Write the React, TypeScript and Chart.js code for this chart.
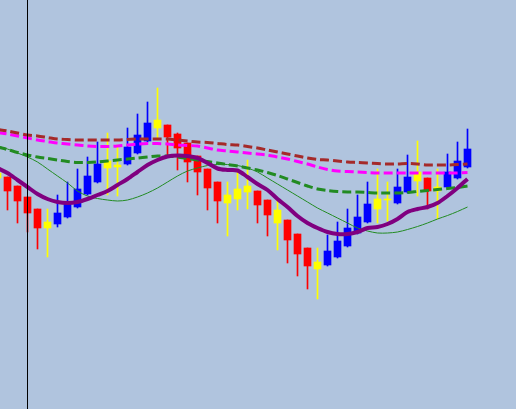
import React, { useEffect, useRef } from "react";
import { Chart, registerables } from "chart.js";

Chart.register(...registerables);

// ---- data ----
const candleKinds = [
  "doji", "down", "down", "down", "down", "doji", "up", "up", "up", "up",
  "up", "doji", "doji", "up", "up", "up", "doji", "down", "down", "down",
  "down", "down", "down", "doji", "doji", "doji", "down", "down", "doji", "down",
  "down", "down", "doji", "up", "up", "up", "up", "up", "doji", "doji",
  "up", "up", "doji", "down", "doji", "up", "up", "up",
];

const opens = [
  110.36, 110.32, 110.23, 110.12, 110.0, 109.87, 109.85, 109.92, 110.02, 110.15,
  110.27, 110.48, 110.44, 110.45, 110.56, 110.68, 110.89, 110.84, 110.75, 110.66,
  110.53, 110.4, 110.27, 110.14, 110.2, 110.23, 110.18, 110.09, 109.99, 109.89,
  109.75, 109.61, 109.47, 109.44, 109.52, 109.63, 109.76, 109.87, 110.1, 110.1,
  110.06, 110.17, 110.37, 110.31, 110.22, 110.22, 110.31, 110.42,
];

const closes = [
  110.31, 110.18, 110.08, 109.96, 109.81, 109.81, 109.96, 110.06, 110.2, 110.33,
  110.45, 110.41, 110.42, 110.62, 110.74, 110.86, 110.81, 110.72, 110.61, 110.47,
  110.37, 110.21, 110.08, 110.06, 110.1, 110.17, 110.04, 109.94, 109.86, 109.69,
  109.55, 109.43, 109.4, 109.58, 109.68, 109.81, 109.92, 110.05, 110.0, 110.09,
  110.22, 110.32, 110.28, 110.18, 110.18, 110.37, 110.48, 110.6,
];

const highs = [
  110.41, 110.32, 110.23, 110.12, 110.0, 110.0, 110.14, 110.27, 110.4, 110.52,
  110.67, 110.76, 110.64, 110.81, 110.95, 111.07, 111.21, 110.84, 110.76, 110.66,
  110.53, 110.4, 110.27, 110.27, 110.37, 110.49, 110.18, 110.09, 110.09, 109.89,
  109.75, 109.61, 109.61, 109.74, 109.87, 110.0, 110.14, 110.27, 110.4, 110.27,
  110.4, 110.54, 110.68, 110.31, 110.4, 110.55, 110.67, 110.8,
];

const lows = [
  110.25, 109.99, 109.86, 109.77, 109.6, 109.52, 109.82, 109.91, 110.01, 110.14,
  110.26, 110.14, 110.13, 110.44, 110.55, 110.67, 110.69, 110.54, 110.39, 110.27,
  110.14, 109.99, 109.86, 109.73, 109.99, 110.0, 109.86, 109.73, 109.59, 109.46,
  109.33, 109.2, 109.1, 109.43, 109.51, 109.62, 109.75, 109.86, 109.86, 109.88,
  110.05, 110.16, 110.13, 110.0, 109.9, 110.21, 110.3, 110.41,
];

const maBrown = [
  110.795, 110.78, 110.76, 110.74, 110.73, 110.715, 110.7, 110.695, 110.69, 110.69,
  110.69, 110.69, 110.69, 110.695, 110.7, 110.7, 110.7, 110.7, 110.69, 110.68,
  110.67, 110.665, 110.655, 110.645, 110.64, 110.625, 110.61, 110.59, 110.57, 110.55,
  110.53, 110.51, 110.495, 110.49, 110.48, 110.47, 110.465, 110.46, 110.455, 110.45,
  110.45, 110.455, 110.45, 110.44, 110.44, 110.44, 110.445, 110.45,
];

const maMagenta = [
  110.765, 110.75, 110.73, 110.71, 110.69, 110.675, 110.66, 110.65, 110.64, 110.63,
  110.625, 110.625, 110.63, 110.64, 110.65, 110.655, 110.655, 110.65, 110.64, 110.635,
  110.63, 110.61, 110.59, 110.58, 110.57, 110.56, 110.55, 110.54, 110.52, 110.5,
  110.475, 110.45, 110.42, 110.395, 110.38, 110.375, 110.37, 110.365, 110.36, 110.36,
  110.36, 110.36, 110.36, 110.36, 110.36, 110.36, 110.36, 110.365,
];

const maGreenDashed = [
  110.62, 110.595, 110.565, 110.54, 110.52, 110.505, 110.49, 110.475, 110.465, 110.465,
  110.47, 110.48, 110.49, 110.5, 110.51, 110.52, 110.53, 110.53, 110.52, 110.505,
  110.49, 110.475, 110.46, 110.445, 110.43, 110.41, 110.39, 110.365, 110.335, 110.3,
  110.265, 110.23, 110.2, 110.185, 110.175, 110.17, 110.17, 110.165, 110.16, 110.16,
  110.16, 110.165, 110.175, 110.185, 110.195, 110.205, 110.215, 110.23,
];

const maPurple = [
  110.41, 110.36, 110.29, 110.22, 110.15, 110.1, 110.07, 110.06, 110.07, 110.1,
  110.14, 110.18, 110.24, 110.3, 110.37, 110.44, 110.49, 110.525, 110.535, 110.53,
  110.51, 110.46, 110.405, 110.39, 110.385, 110.32, 110.25, 110.19, 110.1, 110.02,
  109.93, 109.86, 109.81, 109.77, 109.75, 109.75, 109.77, 109.81, 109.82, 109.85,
  109.9, 109.97, 110.0, 110.02, 110.06, 110.13, 110.21, 110.3,
];

const maGreenThin = [
  110.63, 110.6, 110.56, 110.52, 110.47, 110.4, 110.33, 110.26, 110.18, 110.13,
  110.105, 110.09, 110.08, 110.09, 110.12, 110.16, 110.21, 110.27, 110.33, 110.38,
  110.41, 110.435, 110.445, 110.445, 110.435, 110.41, 110.37, 110.31, 110.25, 110.19,
  110.13, 110.07, 110.01, 109.96, 109.91, 109.86, 109.81, 109.78, 109.76, 109.76,
  109.77, 109.795, 109.825, 109.86, 109.9, 109.935, 109.975, 110.02,
];

const separatorIndex = 3;
const priceMin = 108.0;
const priceMax = 112.09;
const indexMin = 0.25;
const indexMax = 51.85;

const kindColors: Record<string, string> = {
  up: "#0000FF",
  down: "#FF0000",
  doji: "#FFFF00",
};

export default function App() {
  const canvasRef = useRef<HTMLCanvasElement | null>(null);

  useEffect(() => {
    const canvas = canvasRef.current;
    if (!canvas) return;
    const colors = candleKinds.map((k) => kindColors[k]);
    const idx = opens.map((_, i) => i);
    const line = (data: number[], color: string, width: number, dash: number[], order: number) => ({
      type: "line" as const,
      data: data.map((v, i) => ({ x: i, y: v })),
      borderColor: color,
      borderWidth: width,
      borderDash: dash,
      pointRadius: 0,
      tension: 0.3,
      fill: false,
      order,
    });

    const chart = new Chart(canvas, {
      type: "bar",
      data: {
        datasets: [
          {
            type: "bar",
            data: idx.map((i) => ({ x: i, y: [lows[i], highs[i]] })),
            backgroundColor: colors,
            borderWidth: 0,
            barThickness: 1,
            grouped: false,
            order: 20,
          } as any,
          {
            type: "bar",
            data: idx.map((i) => ({ x: i, y: [opens[i], closes[i]] })),
            backgroundColor: colors,
            borderWidth: 0,
            barThickness: 7,
            grouped: false,
            order: 19,
          } as any,
          line(maGreenThin, "#228B22", 1, [], 10),
          line(maGreenDashed, "#228B22", 3, [9, 4], 9),
          line(maMagenta, "#FF00FF", 3, [9, 4], 8),
          line(maBrown, "#A52A2A", 3, [9, 4], 7),
          line(maPurple, "#800080", 4, [], 6),
          {
            type: "line",
            data: [
              { x: separatorIndex, y: priceMin },
              { x: separatorIndex, y: priceMax },
            ],
            borderColor: "#000000",
            borderWidth: 1,
            pointRadius: 0,
            order: 0,
          } as any,
        ],
      },
      options: {
        animation: false,
        responsive: false,
        devicePixelRatio: 1,
        layout: { padding: 0 },
        plugins: { legend: { display: false }, tooltip: { enabled: false } },
        events: [],
        scales: {
          x: { type: "linear", min: indexMin, max: indexMax, display: false, offset: false, grid: { display: false } },
          y: { type: "linear", min: priceMin, max: priceMax, display: false, grid: { display: false } },
        },
      },
    } as any);
    return () => chart.destroy();
  }, []);

  return (
    <div style={{ position: "fixed", left: 0, top: 0, width: 516, height: 409, background: "#B0C4DE" }}>
      <canvas ref={canvasRef} width={516} height={409} style={{ display: "block", width: 516, height: 409 }} />
    </div>
  );
}
